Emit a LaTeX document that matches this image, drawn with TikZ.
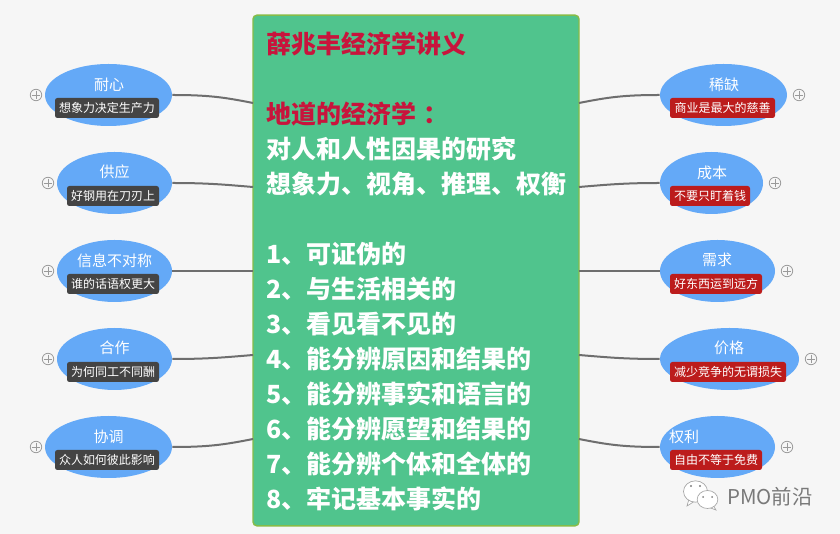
\documentclass[tikz,border=0pt]{standalone}
\usepackage{fontspec}
\setmainfont{Noto Sans CJK SC}
\usetikzlibrary{shapes.geometric}
\definecolor{bgc}{HTML}{F6F6F6}
\definecolor{bluec}{HTML}{64A9F7}
\definecolor{greenc}{HTML}{50C48D}
\definecolor{borderc}{HTML}{86BC48}
\definecolor{redt}{HTML}{C8143C}
\definecolor{tagd}{HTML}{444444}
\definecolor{tagr}{HTML}{BC1C1C}
\definecolor{linec}{HTML}{6E6E6E}
\definecolor{iconc}{HTML}{9A9A9A}
\tikzset{
  x=0.75pt,y=-0.75pt,
  topic/.style={ellipse,fill=bluec,inner sep=0pt},
  toptext/.style={text=white,font=\fontsize{11.25}{13}\selectfont,inner sep=0pt},
  tagbase/.style={rounded corners=1.8pt,minimum height=15pt,inner sep=0pt,text=white,font=\fontsize{9}{11}\selectfont},
  tagdark/.style={tagbase,fill=tagd},
  tagred/.style={tagbase,fill=tagr},
  conn/.style={draw=linec,line width=1.5pt},
  plusicon/.style={circle,draw=iconc,fill=bgc,line width=.6pt,minimum size=8.6pt,inner sep=0pt,
    path picture={\draw[iconc,line width=.5pt] ([yshift=-1pt]path picture bounding box.north) -- ([yshift=1pt]path picture bounding box.south)
      ([xshift=1pt]path picture bounding box.west) -- ([xshift=-1pt]path picture bounding box.east);}},
  bubble/.style={ellipse,draw=gray!70,fill=white,line width=.5pt,inner sep=0pt},
}
\begin{document}
\begin{tikzpicture}
\useasboundingbox (0,0) rectangle (840,534);
\fill[bgc] (0,0) rectangle (840,534);
\node[draw=borderc,fill=greenc,line width=1.1pt,rounded corners=3pt,minimum width=244.5pt,minimum height=383pt,inner sep=0pt] (main) at (416,270.5) {};
\node[anchor=north west,inner sep=0pt,align=left,text=white,
  font=\fontsize{18.75}{26.25}\selectfont\bfseries] (body) at (266,31.5) {%
  \textcolor{redt}{薛兆丰经济学讲义}\\[0pt]
  \mbox{}\\[0pt]
  \textcolor{redt}{地道的经济学\hspace{5.5pt}：}\\[0pt]
  对人和人性因果的研究\\[0pt]
  想象力、视角、推理、权衡\\[0pt]
  \mbox{}\\[0pt]
  1、可证伪的\\[0pt]
  2、与生活相关的\\[0pt]
  3、看见看不见的\\[0pt]
  4、能分辨原因和结果的\\[0pt]
  5、能分辨事实和语言的\\[0pt]
  6、能分辨愿望和结果的\\[0pt]
  7、能分辨个体和全体的\\[0pt]
  8、牢记基本事实的};

% left topics
\node[topic,minimum width=95.25pt,minimum height=46.5pt] (l1) at (108.5,95) {};
\node[topic,minimum width=86.25pt,minimum height=46.5pt] (l2) at (114.5,183) {};
\node[topic,minimum width=86.25pt,minimum height=46.5pt] (l3) at (114.5,271) {};
\node[topic,minimum width=86.25pt,minimum height=46.5pt] (l4) at (114.5,359) {};
\node[topic,minimum width=95.25pt,minimum height=46.5pt] (l5) at (108.5,447) {};
% right topics
\node[topic,minimum width=95.25pt,minimum height=46.5pt] (r1) at (723.5,95) {};
\node[topic,minimum width=77.25pt,minimum height=46.5pt] (r2) at (711.5,183) {};
\node[topic,minimum width=86.25pt,minimum height=46.5pt] (r3) at (717.5,271) {};
\node[topic,minimum width=104.25pt,minimum height=46.5pt] (r4) at (729.5,359) {};
\node[topic,minimum width=86.25pt,minimum height=46.5pt] (r5) at (717.5,447) {};

% connectors
\coordinate (la) at (253,103); \coordinate (lb) at (253,187); \coordinate (lc) at (253,271);
\coordinate (ld) at (253,355); \coordinate (le) at (253,439);
\coordinate (ra) at (579,103); \coordinate (rb) at (579,187); \coordinate (rc) at (579,271);
\coordinate (rd) at (579,355); \coordinate (re) at (579,439);
\draw[conn] (l1.east) .. controls +(35,0) and +(-30,-6) .. (la);
\draw[conn] (l2.east) .. controls +(35,0) and +(-30,-2.5) .. (lb);
\draw[conn] (l3.east) -- (lc);
\draw[conn] (l4.east) .. controls +(35,0) and +(-30,2.5) .. (ld);
\draw[conn] (l5.east) .. controls +(35,0) and +(-30,6) .. (le);
\draw[conn] (r1.west) .. controls +(-35,0) and +(30,-6) .. (ra);
\draw[conn] (r2.west) .. controls +(-35,0) and +(30,-2.5) .. (rb);
\draw[conn] (r3.west) -- (rc);
\draw[conn] (r4.west) .. controls +(-35,0) and +(30,2.5) .. (rd);
\draw[conn] (r5.west) .. controls +(-35,0) and +(30,6) .. (re);

% titles
\node[toptext] (lt1) at (109,85) {耐心};
\node[toptext] (lt2) at (114.5,172) {供应};
\node[toptext] (lt3) at (114.5,261) {信息不对称};
\node[toptext] (lt4) at (114.5,348) {合作};
\node[toptext] (lt5) at (108.5,437) {协调};
\node[toptext] (rt1) at (724,85) {稀缺};
\node[toptext] (rt2) at (712,173) {成本};
\node[toptext] (rt3) at (717,260) {需求};
\node[toptext] (rt4) at (729,348) {价格};
\node[toptext] (rt5) at (684,437) {权利};

% tags
\node[tagdark,minimum width=78pt] (lg1) at (107,108) {想象力决定生产力};
\node[tagdark,minimum width=69pt] (lg2) at (113,196) {好钢用在刀刃上};
\node[tagdark,minimum width=69pt] (lg3) at (113,284) {谁的话语权更大};
\node[tagdark,minimum width=69pt] (lg4) at (113,372) {为何同工不同酬};
\node[tagdark,minimum width=78pt] (lg5) at (107,460) {众人如何彼此影响};
\node[tagred,minimum width=78.75pt] (rg1) at (722.5,108) {商业是最大的慈善};
\node[tagred,minimum width=60pt] (rg2) at (710,196) {不要只盯着钱};
\node[tagred,minimum width=69pt] (rg3) at (716,284) {好东西运到远方};
\node[tagred,minimum width=87pt] (rg4) at (728,372) {减少竞争的无谓损失};
\node[tagred,minimum width=69pt] (rg5) at (716,460) {自由不等于免费};

% expand icons
\node[plusicon] (pl1) at (36,95) {};
\node[plusicon] (pl2) at (48,183) {};
\node[plusicon] (pl3) at (48,271) {};
\node[plusicon] (pl4) at (48,359) {};
\node[plusicon] (pl5) at (36,447) {};
\node[plusicon] (pr1) at (799,95) {};
\node[plusicon] (pr2) at (775,183) {};
\node[plusicon] (pr3) at (787,271) {};
\node[plusicon] (pr4) at (811,359) {};
\node[plusicon] (pr5) at (787,447) {};

% watermark
\draw[gray!70,fill=white,line width=.5pt] (689,499) -- (687,506) -- (695,501) -- cycle;
\node[bubble,minimum width=18pt,minimum height=16pt] (wa) at (695.5,491.5) {};
\draw[gray!70,fill=white,line width=.5pt] (713,505) -- (716,510) -- (708,507) -- cycle;
\node[bubble,minimum width=15.5pt,minimum height=13.5pt] (wb) at (707.5,499.5) {};
\fill[gray] (691,486) circle (1.1) (700,486) circle (1.1) (703,497) circle (1) (712,497) circle (1);
\node[anchor=west,inner sep=0pt,text=gray!95!black,font=\fontsize{15.3}{17}\selectfont] (wm) at (727,497) {PMO前沿};
\end{tikzpicture}
\end{document}
